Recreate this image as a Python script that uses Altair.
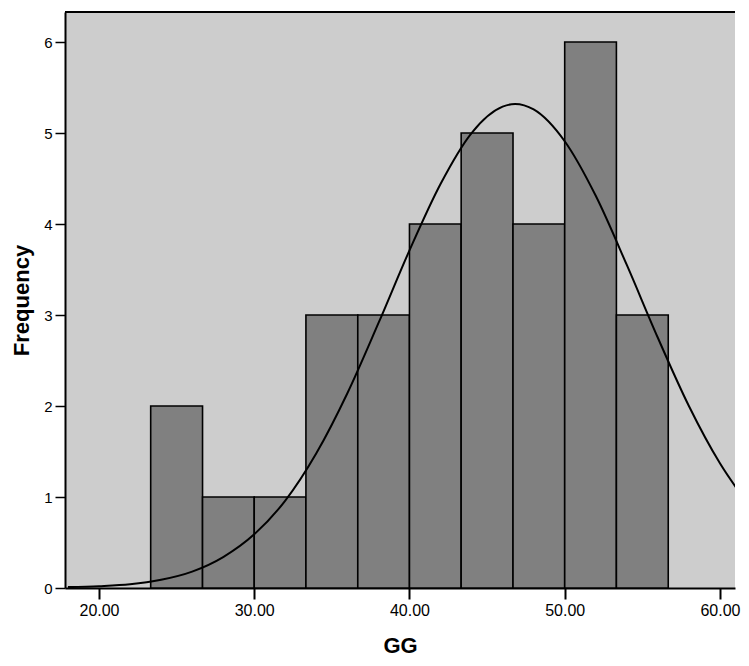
import altair as alt
import pandas as pd

# Histogram bins (lower/upper edges) and counts
bin_lo = [23.33, 26.67, 30.00, 33.33, 36.67, 40.00, 43.33, 46.67, 50.00, 53.33]
bin_hi = [26.67, 30.00, 33.33, 36.67, 40.00, 43.33, 46.67, 50.00, 53.33, 56.67]
counts = [2, 1, 1, 3, 3, 4, 5, 4, 6, 3]

# Normal curve
curve_x = [18, 20, 22, 24, 26, 28, 30, 32, 34, 36, 38, 40, 42, 44, 46, 46.8,
           48, 50, 52, 54, 56, 58, 60, 62]
curve_y = [0.01, 0.02, 0.04, 0.09, 0.18, 0.34, 0.59, 0.96, 1.48, 2.14, 2.91, 3.71,
           4.44, 5.00, 5.29, 5.32, 5.26, 4.91, 4.31, 3.55, 2.75, 2.00, 1.37, 0.88]

x_ticks = [20, 30, 40, 50, 60]
y_ticks = [0, 1, 2, 3, 4, 5, 6]

bars_df = pd.DataFrame({"lo": bin_lo, "hi": bin_hi, "n": counts})
curve_df = pd.DataFrame({"x": curve_x, "y": curve_y})

FONT = "Liberation Sans"
xdom = [17.81, 60.97]
ydom = [0, 6.33]

xscale = alt.Scale(domain=xdom, nice=False, zero=False)
yscale = alt.Scale(domain=ydom, nice=False, zero=False)

bars = alt.Chart(bars_df).mark_rect(
    fill="#808080", stroke="black", strokeWidth=1.6
).encode(
    x=alt.X("lo:Q", scale=xscale, title="GG",
            axis=alt.Axis(values=x_ticks, format=".2f", grid=False,
                          domainColor="black", domainWidth=2,
                          tickColor="black", tickWidth=2, tickSize=11,
                          labelFont=FONT, labelFontSize=16, labelColor="black",
                          labelPadding=3, labelOverlap=False, labelBound=False,
                          titleFont=FONT, titleFontSize=22, titleFontWeight="bold",
                          titleColor="black", titlePadding=17)),
    x2="hi:Q",
    y=alt.Y("n:Q", scale=yscale, title="Frequency",
            axis=alt.Axis(values=y_ticks, format="d", grid=False,
                          domainColor="black", domainWidth=2,
                          tickColor="black", tickWidth=1.5, tickSize=10,
                          labelFont=FONT, labelFontSize=15, labelColor="black",
                          labelPadding=3,
                          titleFont=FONT, titleFontSize=22, titleFontWeight="bold",
                          titleColor="black", titlePadding=10)),
    y2=alt.Y2(datum=0),
)

curve = alt.Chart(curve_df).mark_line(
    color="black", strokeWidth=2, interpolate="monotone", clip=True
).encode(
    x=alt.X("x:Q", scale=xscale),
    y=alt.Y("y:Q", scale=yscale),
)

top_border = alt.Chart(pd.DataFrame({"a": [0]})).mark_rule(
    color="black", strokeWidth=2
).encode(x=alt.value(0), x2=alt.value(670), y=alt.value(0))

chart = alt.layer(bars, curve, top_border).properties(
    width=670, height=576,
    autosize=alt.AutoSizeParams(type="none"),
    padding={"left": 57, "top": 4, "right": 6, "bottom": 70},
    background="white",
).configure_view(
    fill="#cdcdcd", stroke=None
)

chart.save("out.html", embed_options={"renderer": "svg", "actions": False})
